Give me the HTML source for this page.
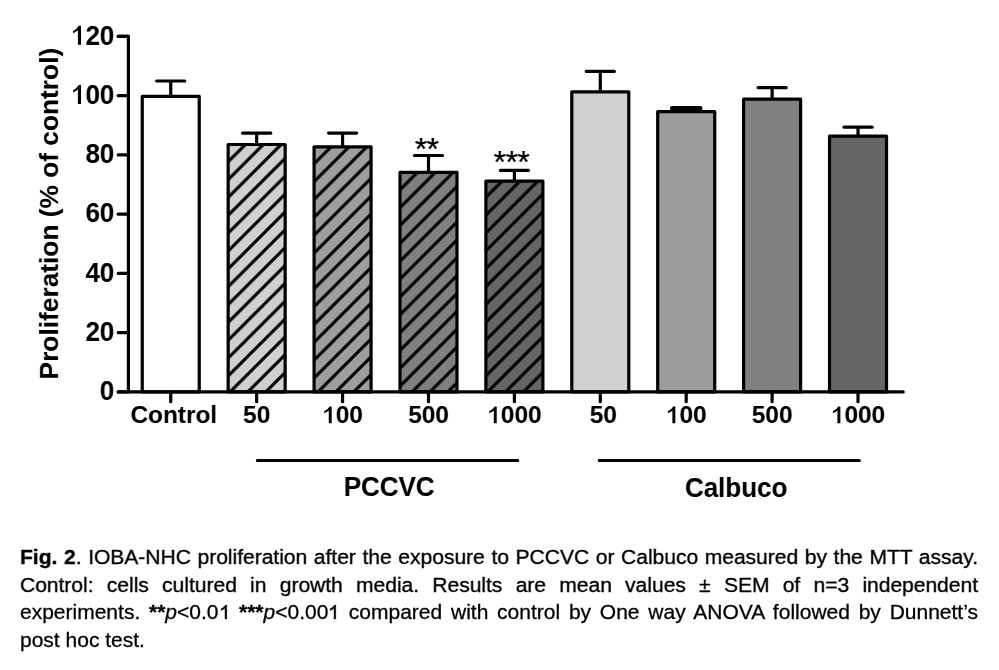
<!DOCTYPE html>
<html><head><meta charset="utf-8"><style>
html,body{margin:0;padding:0;background:#fff;}
body{width:999px;height:670px;position:relative;overflow:hidden;font-family:"Liberation Sans",sans-serif;filter:grayscale(1);}
.yl{font-family:"Liberation Sans",sans-serif;font-weight:bold;font-size:26px;fill:#000;}
.xl{font-family:"Liberation Sans",sans-serif;font-weight:bold;font-size:24.4px;fill:#000;}
.yt{font-family:"Liberation Sans",sans-serif;font-weight:bold;font-size:26.3px;fill:#000;}
.gl{font-family:"Liberation Sans",sans-serif;font-weight:bold;font-size:26px;fill:#000;}
.ast{font-family:"Liberation Sans",sans-serif;font-size:32px;letter-spacing:-0.6px;fill:#000;stroke:#000;stroke-width:0.25px;}
.cl{position:absolute;left:20px;width:958px;font-size:21px;line-height:27.5px;height:27.5px;white-space:nowrap;color:#000;transform:scaleY(0.935);transform-origin:0 21px;-webkit-text-stroke:0.3px #000;}
.cl.j{text-align:justify;text-align-last:justify;white-space:normal;}
.one{position:relative;color:transparent;-webkit-text-stroke:0 transparent;}
.one svg{position:absolute;left:0;top:0;overflow:visible;}
</style></head><body>
<svg width="999" height="520" viewBox="0 0 999 520" style="position:absolute;left:0;top:0">
<defs>
<pattern id="h1" patternUnits="userSpaceOnUse" width="17.85" height="17.85" patternTransform="translate(15.100,0)"><path d="M-17.85,17.85 L17.85,-17.85 M0,35.7 L35.7,0 M-17.85,35.7 L35.7,-17.85" stroke="#000" stroke-width="3.05" fill="none"/></pattern>
<pattern id="h2" patternUnits="userSpaceOnUse" width="17.85" height="17.85" patternTransform="translate(13.850,0)"><path d="M-17.85,17.85 L17.85,-17.85 M0,35.7 L35.7,0 M-17.85,35.7 L35.7,-17.85" stroke="#000" stroke-width="3.05" fill="none"/></pattern>
<pattern id="h3" patternUnits="userSpaceOnUse" width="17.85" height="17.85" patternTransform="translate(0.800,0)"><path d="M-17.85,17.85 L17.85,-17.85 M0,35.7 L35.7,0 M-17.85,35.7 L35.7,-17.85" stroke="#000" stroke-width="3.05" fill="none"/></pattern>
<pattern id="h4" patternUnits="userSpaceOnUse" width="17.85" height="17.85" patternTransform="translate(4.950,0)"><path d="M-17.85,17.85 L17.85,-17.85 M0,35.7 L35.7,0 M-17.85,35.7 L35.7,-17.85" stroke="#000" stroke-width="3.05" fill="none"/></pattern>
</defs>
<rect x="142.25" y="96.30" width="57.0" height="295.60" fill="#ffffff"/>
<rect x="142.25" y="96.30" width="57.0" height="295.60" fill="none" stroke="#000" stroke-width="3.2" stroke-linejoin="round"/>
<path d="M170.75,96.30 V81.00" stroke="#000" stroke-width="3.2" fill="none"/>
<path d="M156.75,81.00 H184.75" stroke="#000" stroke-width="3.2" stroke-linecap="round" fill="none"/>
<rect x="228.16" y="144.50" width="57.0" height="247.40" fill="#d0d0d0"/>
<rect x="228.16" y="144.50" width="57.0" height="247.40" fill="url(#h1)"/>
<rect x="228.16" y="144.50" width="57.0" height="247.40" fill="none" stroke="#000" stroke-width="3.2" stroke-linejoin="round"/>
<path d="M256.66,144.50 V133.20" stroke="#000" stroke-width="3.2" fill="none"/>
<path d="M242.66,133.20 H270.66" stroke="#000" stroke-width="3.2" stroke-linecap="round" fill="none"/>
<rect x="314.07" y="146.80" width="57.0" height="245.10" fill="#9e9e9e"/>
<rect x="314.07" y="146.80" width="57.0" height="245.10" fill="url(#h2)"/>
<rect x="314.07" y="146.80" width="57.0" height="245.10" fill="none" stroke="#000" stroke-width="3.2" stroke-linejoin="round"/>
<path d="M342.57,146.80 V133.10" stroke="#000" stroke-width="3.2" fill="none"/>
<path d="M328.57,133.10 H356.57" stroke="#000" stroke-width="3.2" stroke-linecap="round" fill="none"/>
<rect x="399.98" y="172.40" width="57.0" height="219.50" fill="#808080"/>
<rect x="399.98" y="172.40" width="57.0" height="219.50" fill="url(#h3)"/>
<rect x="399.98" y="172.40" width="57.0" height="219.50" fill="none" stroke="#000" stroke-width="3.2" stroke-linejoin="round"/>
<path d="M428.48,172.40 V155.50" stroke="#000" stroke-width="3.2" fill="none"/>
<path d="M414.48,155.50 H442.48" stroke="#000" stroke-width="3.2" stroke-linecap="round" fill="none"/>
<rect x="485.89" y="181.20" width="57.0" height="210.70" fill="#656565"/>
<rect x="485.89" y="181.20" width="57.0" height="210.70" fill="url(#h4)"/>
<rect x="485.89" y="181.20" width="57.0" height="210.70" fill="none" stroke="#000" stroke-width="3.2" stroke-linejoin="round"/>
<path d="M514.39,181.20 V170.40" stroke="#000" stroke-width="3.2" fill="none"/>
<path d="M500.39,170.40 H528.39" stroke="#000" stroke-width="3.2" stroke-linecap="round" fill="none"/>
<rect x="571.80" y="91.90" width="57.0" height="300.00" fill="#d0d0d0"/>
<rect x="571.80" y="91.90" width="57.0" height="300.00" fill="none" stroke="#000" stroke-width="3.2" stroke-linejoin="round"/>
<path d="M600.30,91.90 V71.40" stroke="#000" stroke-width="3.2" fill="none"/>
<path d="M586.30,71.40 H614.30" stroke="#000" stroke-width="3.2" stroke-linecap="round" fill="none"/>
<rect x="657.71" y="111.70" width="57.0" height="280.20" fill="#9c9c9c"/>
<rect x="657.71" y="111.70" width="57.0" height="280.20" fill="none" stroke="#000" stroke-width="3.2" stroke-linejoin="round"/>
<path d="M686.21,111.70 V108.40" stroke="#000" stroke-width="3.2" fill="none"/>
<path d="M672.21,108.40 H700.21" stroke="#000" stroke-width="4.6" stroke-linecap="round" fill="none"/>
<rect x="743.62" y="99.20" width="57.0" height="292.70" fill="#808080"/>
<rect x="743.62" y="99.20" width="57.0" height="292.70" fill="none" stroke="#000" stroke-width="3.2" stroke-linejoin="round"/>
<path d="M772.12,99.20 V87.70" stroke="#000" stroke-width="3.2" fill="none"/>
<path d="M758.12,87.70 H786.12" stroke="#000" stroke-width="3.2" stroke-linecap="round" fill="none"/>
<rect x="829.53" y="136.20" width="57.0" height="255.70" fill="#666666"/>
<rect x="829.53" y="136.20" width="57.0" height="255.70" fill="none" stroke="#000" stroke-width="3.2" stroke-linejoin="round"/>
<path d="M858.03,136.20 V127.20" stroke="#000" stroke-width="3.2" fill="none"/>
<path d="M844.03,127.20 H872.03" stroke="#000" stroke-width="3.2" stroke-linecap="round" fill="none"/>
<path d="M118.2,36.40 H128.4 V391.90 M118.2,391.90 H903.2" stroke="#000" stroke-width="3.2" stroke-linejoin="round" stroke-linecap="round" fill="none"/>
<path d="M118.2,391.90 H128.4" stroke="#000" stroke-width="3.2" stroke-linecap="round" fill="none"/>
<g transform="translate(99.84,400.20) scale(1,1.05)"><text x="0" y="0" class="yl">0</text></g>
<path d="M118.2,332.65 H128.4" stroke="#000" stroke-width="3.2" stroke-linecap="round" fill="none"/>
<g transform="translate(85.39,340.95) scale(1,1.05)"><text x="0" y="0" class="yl">20</text></g>
<path d="M118.2,273.40 H128.4" stroke="#000" stroke-width="3.2" stroke-linecap="round" fill="none"/>
<g transform="translate(85.39,281.70) scale(1,1.05)"><text x="0" y="0" class="yl">40</text></g>
<path d="M118.2,214.15 H128.4" stroke="#000" stroke-width="3.2" stroke-linecap="round" fill="none"/>
<g transform="translate(85.39,222.45) scale(1,1.05)"><text x="0" y="0" class="yl">60</text></g>
<path d="M118.2,154.90 H128.4" stroke="#000" stroke-width="3.2" stroke-linecap="round" fill="none"/>
<g transform="translate(85.39,163.20) scale(1,1.05)"><text x="0" y="0" class="yl">80</text></g>
<path d="M118.2,95.65 H128.4" stroke="#000" stroke-width="3.2" stroke-linecap="round" fill="none"/>
<g transform="translate(70.93,103.95) scale(1,1.05)"><text x="0" y="0" class="yl"><tspan fill="transparent">1</tspan>00</text><path transform="translate(0.00,0) scale(26)" d="M0.388,0 L0.388,-0.69 L0.295,-0.69 C0.265,-0.625 0.195,-0.555 0.082,-0.497 L0.082,-0.415 C0.16,-0.445 0.225,-0.485 0.268,-0.525 L0.268,0 Z" fill="#000"/></g>
<path d="M118.2,36.40 H128.4" stroke="#000" stroke-width="3.2" stroke-linecap="round" fill="none"/>
<g transform="translate(70.93,44.70) scale(1,1.05)"><text x="0" y="0" class="yl"><tspan fill="transparent">1</tspan>20</text><path transform="translate(0.00,0) scale(26)" d="M0.388,0 L0.388,-0.69 L0.295,-0.69 C0.265,-0.625 0.195,-0.555 0.082,-0.497 L0.082,-0.415 C0.16,-0.445 0.225,-0.485 0.268,-0.525 L0.268,0 Z" fill="#000"/></g>
<path d="M170.75,391.90 V401.7" stroke="#000" stroke-width="3.2" stroke-linecap="round" fill="none"/>
<text x="173.75" y="423.4" text-anchor="middle" class="xl">Control</text>
<path d="M256.66,391.90 V401.7" stroke="#000" stroke-width="3.2" stroke-linecap="round" fill="none"/>
<g transform="translate(243.09,423.30) scale(1,1.0)"><text x="0" y="0" class="xl">50</text></g>
<path d="M342.57,391.90 V401.7" stroke="#000" stroke-width="3.2" stroke-linecap="round" fill="none"/>
<g transform="translate(322.22,423.30) scale(1,1.0)"><text x="0" y="0" class="xl"><tspan fill="transparent">1</tspan>00</text><path transform="translate(0.00,0) scale(24.4)" d="M0.388,0 L0.388,-0.69 L0.295,-0.69 C0.265,-0.625 0.195,-0.555 0.082,-0.497 L0.082,-0.415 C0.16,-0.445 0.225,-0.485 0.268,-0.525 L0.268,0 Z" fill="#000"/></g>
<path d="M428.48,391.90 V401.7" stroke="#000" stroke-width="3.2" stroke-linecap="round" fill="none"/>
<g transform="translate(408.13,423.30) scale(1,1.0)"><text x="0" y="0" class="xl">500</text></g>
<path d="M514.39,391.90 V401.7" stroke="#000" stroke-width="3.2" stroke-linecap="round" fill="none"/>
<g transform="translate(487.26,423.30) scale(1,1.0)"><text x="0" y="0" class="xl"><tspan fill="transparent">1</tspan>000</text><path transform="translate(0.00,0) scale(24.4)" d="M0.388,0 L0.388,-0.69 L0.295,-0.69 C0.265,-0.625 0.195,-0.555 0.082,-0.497 L0.082,-0.415 C0.16,-0.445 0.225,-0.485 0.268,-0.525 L0.268,0 Z" fill="#000"/></g>
<path d="M600.30,391.90 V401.7" stroke="#000" stroke-width="3.2" stroke-linecap="round" fill="none"/>
<g transform="translate(589.73,423.30) scale(1,1.0)"><text x="0" y="0" class="xl">50</text></g>
<path d="M686.21,391.90 V401.7" stroke="#000" stroke-width="3.2" stroke-linecap="round" fill="none"/>
<g transform="translate(665.86,423.30) scale(1,1.0)"><text x="0" y="0" class="xl"><tspan fill="transparent">1</tspan>00</text><path transform="translate(0.00,0) scale(24.4)" d="M0.388,0 L0.388,-0.69 L0.295,-0.69 C0.265,-0.625 0.195,-0.555 0.082,-0.497 L0.082,-0.415 C0.16,-0.445 0.225,-0.485 0.268,-0.525 L0.268,0 Z" fill="#000"/></g>
<path d="M772.12,391.90 V401.7" stroke="#000" stroke-width="3.2" stroke-linecap="round" fill="none"/>
<g transform="translate(751.77,423.30) scale(1,1.0)"><text x="0" y="0" class="xl">500</text></g>
<path d="M858.03,391.90 V401.7" stroke="#000" stroke-width="3.2" stroke-linecap="round" fill="none"/>
<g transform="translate(830.90,423.30) scale(1,1.0)"><text x="0" y="0" class="xl"><tspan fill="transparent">1</tspan>000</text><path transform="translate(0.00,0) scale(24.4)" d="M0.388,0 L0.388,-0.69 L0.295,-0.69 C0.265,-0.625 0.195,-0.555 0.082,-0.497 L0.082,-0.415 C0.16,-0.445 0.225,-0.485 0.268,-0.525 L0.268,0 Z" fill="#000"/></g>
<text transform="translate(58.3,213.6) rotate(-90)" text-anchor="middle" class="yt">Proliferation (% of control)</text>
<text x="426.58" y="160.2" text-anchor="middle" class="ast">**</text>
<text x="511.39" y="172.6" text-anchor="middle" class="ast">***</text>
<path d="M257.4,460.5 H517.8 M599.3,460.5 H859.3" stroke="#000" stroke-width="3.2" stroke-linecap="round" fill="none"/>
<text transform="translate(389.15,496.4) scale(1,1.06)" text-anchor="middle" class="gl">PCCVC</text>
<text transform="translate(736.15,497) scale(1,1.06)" text-anchor="middle" class="gl">Calbuco</text>
</svg>
<div class="cl j" style="top:543.00px"><b>Fig. 2</b>. IOBA-NHC proliferation after the exposure to PCCVC or Calbuco measured by the MTT assay.</div>
<div class="cl j" style="top:570.50px">Control: cells cultured in growth media. Results are mean values ± SEM of n=3 independent</div>
<div class="cl j" style="top:598.00px">experiments. <b>**</b><i>p</i>&lt;0.0<span class="one">1<svg viewBox="0 -0.905 0.556 1.117" width="0.556em" height="1.117em"><path d="M0.372,0 L0.372,-0.716 L0.302,-0.716 C0.280,-0.668 0.235,-0.617 0.178,-0.570 C0.150,-0.548 0.118,-0.527 0.100,-0.517 L0.100,-0.432 C0.180,-0.466 0.243,-0.506 0.283,-0.545 L0.283,0 Z" fill="#000" stroke="#000" stroke-width="0.014"/></svg></span> <b>***</b><i>p</i>&lt;0.00<span class="one">1<svg viewBox="0 -0.905 0.556 1.117" width="0.556em" height="1.117em"><path d="M0.372,0 L0.372,-0.716 L0.302,-0.716 C0.280,-0.668 0.235,-0.617 0.178,-0.570 C0.150,-0.548 0.118,-0.527 0.100,-0.517 L0.100,-0.432 C0.180,-0.466 0.243,-0.506 0.283,-0.545 L0.283,0 Z" fill="#000" stroke="#000" stroke-width="0.014"/></svg></span> compared with control by One way ANOVA followed by Dunnett’s</div>
<div class="cl" style="top:625.50px">post hoc test.</div>
</body></html>
